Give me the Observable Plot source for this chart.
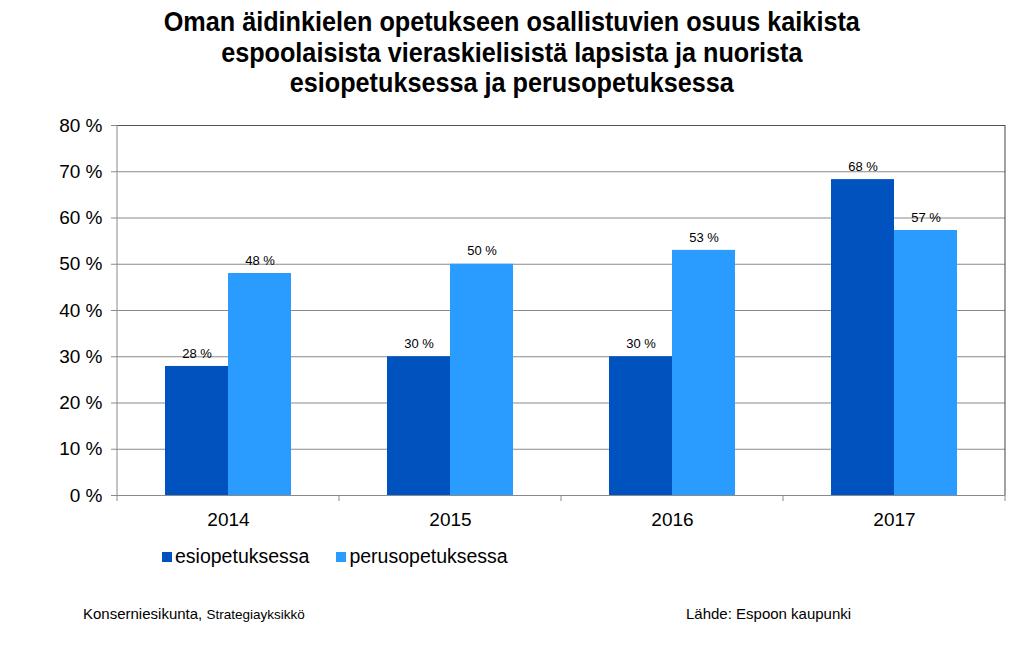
<!DOCTYPE html>
<html><head><meta charset="utf-8">
<script src="https://cdn.jsdelivr.net/npm/d3@7"></script>
<script src="https://cdn.jsdelivr.net/npm/@observablehq/plot@0.6"></script>
<style>
body{margin:0;background:#fff;font-family:"Liberation Sans",Arial,sans-serif;color:#000;}
#wrap{position:relative;width:1024px;height:670px;overflow:hidden;background:#fff;}
#title{position:absolute;top:7px;left:0;width:1024px;text-align:center;font-family:"Liberation Sans",Arial,sans-serif;font-weight:bold;font-size:28px;line-height:30.5px;transform:scaleX(0.9);transform-origin:510px 0;}
#chart{position:absolute;top:100px;left:0;}
#legend{position:absolute;top:545px;left:162px;font-size:19.5px;display:flex;align-items:center;white-space:nowrap;}
#legend .item{display:flex;align-items:center;margin-right:27px;}
#legend .sw{width:10px;height:10px;margin-right:3px;display:inline-block;}
#foot1{position:absolute;top:605px;left:83px;font-size:15px;}
#foot1 small{font-size:13.5px;}
#foot2{position:absolute;top:605px;left:686px;font-size:15px;}
</style>
</head><body>
<div id="wrap">
  <div id="title">Oman äidinkielen opetukseen osallistuvien osuus kaikista<br>espoolaisista vieraskielisistä lapsista ja nuorista<br>esiopetuksessa ja perusopetuksessa</div>
  <div id="chart"></div>
  <div id="legend"></div>
  <div id="foot1">Konserniesikunta, <small>Strategiayksikkö</small></div>
  <div id="foot2">Lähde: Espoon kaupunki</div>
</div>
<script>
const years = ["2014", "2015", "2016", "2017"];
const series = ["esiopetuksessa", "perusopetuksessa"];
const esio = [27.9, 30.0, 30.0, 68.3];
const perus = [48.0, 50.0, 53.0, 57.3];
const colors = ["#0052BF", "#2A9BFF"];
const yTicks = [0, 10, 20, 30, 40, 50, 60, 70, 80];

const rowsA = years.map((y, i) => ({year: y, series: series[0], value: esio[i]}));
const rowsB = years.map((y, i) => ({year: y, series: series[1], value: perus[i]}));
const fmt = d => Math.round(d.value) + " %";

const W = 1024, H = 440, mT = 25, mB = 45, mL = 117, mR = 19;

const chart = Plot.plot({
  width: W, height: H,
  marginTop: mT, marginBottom: mB, marginLeft: mL, marginRight: mR,
  style: {fontFamily: "'Liberation Sans', Arial, sans-serif", color: "#000", background: "#fff"},
  x: {domain: years, padding: 0, label: null},
  y: {domain: [0, 80], label: null},
  marks: [
    Plot.ruleY(yTicks.slice(1, -1), {stroke: "#8a8a8a", strokeWidth: 1}),
    Plot.barY(rowsA, {x: "year", y: "value", fill: colors[0], insetLeft: 48, insetRight: 111}),
    Plot.barY(rowsB, {x: "year", y: "value", fill: colors[1], insetLeft: 111, insetRight: 48}),
    Plot.text(rowsA, {x: "year", y: "value", text: fmt, dx: -31.5, dy: -13, fontSize: 13, fill: "#000"}),
    Plot.text(rowsB, {x: "year", y: "value", text: fmt, dx: 31.5, dy: -13, fontSize: 13, fill: "#000"}),
    Plot.ruleY([0], {stroke: "#8a8a8a"}),
    Plot.ruleY([80], {stroke: "#555"}),
    Plot.axisY({ticks: yTicks, tickFormat: d => d + " %", tickSize: 6, tickPadding: 9, fontSize: 19, stroke: "#8a8a8a", fill: "#000", label: null}),
    Plot.axisX({tickSize: 0, tickPadding: 17, fontSize: 19, fill: "#000", label: null})
  ]
});
document.getElementById("chart").appendChild(chart);

// boundary ticks and side borders, placed through Plot's x scale
const sx = chart.scale("x");
const svg = d3.select(chart);
const bounds = years.map(y => sx.apply(y)).concat([sx.apply(years[years.length - 1]) + sx.bandwidth]);
const yBot = H - mB, yTop = mT;
svg.append("g").selectAll("line").data(bounds).join("line")
  .attr("x1", d => d).attr("x2", d => d)
  .attr("y1", yBot).attr("y2", yBot + 6)
  .attr("stroke", "#8a8a8a");
svg.append("line").attr("x1", bounds[0]).attr("x2", bounds[0]).attr("y1", yTop).attr("y2", yBot).attr("stroke", "#8a8a8a");
svg.append("line").attr("x1", bounds[bounds.length - 1]).attr("x2", bounds[bounds.length - 1]).attr("y1", yTop).attr("y2", yBot).attr("stroke", "#444");

const leg = document.getElementById("legend");
series.forEach((s, i) => {
  const it = document.createElement("span");
  it.className = "item";
  const sw = document.createElement("span");
  sw.className = "sw";
  sw.style.background = colors[i];
  it.appendChild(sw);
  it.appendChild(document.createTextNode(s));
  leg.appendChild(it);
});
</script>
</body></html>
